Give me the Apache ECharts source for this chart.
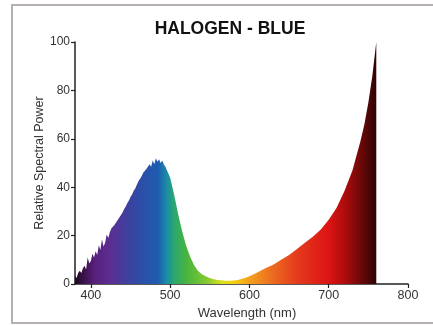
<!DOCTYPE html>
<html>
<head>
<meta charset="utf-8">
<title>HALOGEN - BLUE</title>
<script src="https://cdn.jsdelivr.net/npm/echarts@6/dist/echarts.min.js"></script>
<style>
  html, body { margin: 0; padding: 0; background: #ffffff; overflow: hidden; }
  #frame { position: absolute; left: 11px; top: 4px; width: 425px; height: 316px;
           border: 2px solid #b7b0b0; border-right: none; }
  #chart { position: absolute; left: 0; top: 0; width: 433px; height: 326px; }
</style>
</head>
<body>
<div id="frame"></div>
<div id="chart"></div>
<script>
// Relative spectral power of a halogen lamp behind a blue filter.
const wavelengths = [
  380, 382, 384, 386, 388, 390, 392, 394, 396, 398,
  400, 402, 404, 406, 408, 410, 412, 414, 416, 418,
  420, 422, 424, 426, 428, 430, 432, 434, 436, 438,
  440, 442, 444, 446, 448, 450, 452, 454, 456, 458,
  460, 462, 464, 466, 468, 470, 472, 474, 476, 478,
  480, 482, 484, 486, 488, 490, 492, 494, 496, 498,
  500, 505, 510, 515, 520, 525, 530, 535, 540, 545,
  550, 555, 560, 565, 570, 575, 580, 585, 590, 595,
  600, 610, 620, 630, 640, 650, 660, 670, 680, 690,
  700, 710, 720, 730, 740, 745, 750, 755, 760
];
const power = [
  3.5, 2.5, 4.5, 5.5, 4.5, 6.5, 7.5, 6, 11, 8.5,
  9.5, 12.5, 11, 13.5, 12, 16, 14, 18.5, 15.5, 17,
  20.5, 19, 21.5, 23, 22.5, 24.5, 25, 26.5, 27, 28.5,
  29.5, 31, 32, 33.5, 34.5, 36, 37, 38.5, 39.5, 41,
  42.5, 43.5, 44.5, 46, 45.5, 47.5, 48, 49.5, 48.5, 51,
  49.5, 52, 50.5, 51.5, 50, 51, 49.5, 48.5, 47, 45.5,
  44, 37, 29, 22, 16, 11.5, 8, 5.5, 4, 3.2,
  2.5, 2, 1.7, 1.5, 1.3, 1.3, 1.4, 1.7, 2.1, 2.6,
  3.2, 4.8, 6.5, 8, 10, 12, 14.5, 17, 19.5, 22.5,
  26.5, 31.5, 38.5, 47, 59, 66, 75, 86, 100
];
// Fill colour of the spectrum, keyed by wavelength (nm).
const spectrumWavelengths = [380, 390, 405, 425, 445, 465, 485, 495, 505, 520, 545, 565, 580, 600, 630, 660, 700, 720, 740, 760];
const spectrumColors = ['#1a0a1e', '#3a1048', '#57207c', '#5c2e92', '#3f3f9e', '#2a50a8', '#1e5cb0', '#1b8aa8', '#2aa870', '#48b440',
                        '#80c830', '#d8e020', '#f4d010', '#f4a020', '#ec6a20', '#e43a1c', '#dc1414', '#b00c0c', '#6e0808', '#2e0404'];
const xTicks = [400, 500, 600, 700, 800];
const yTicks = [0, 20, 40, 60, 80, 100];

const wlMin = wavelengths[0];
const wlMax = wavelengths[wavelengths.length - 1];
const stops = spectrumWavelengths.map((w, i) => ({
  offset: (w - wlMin) / (wlMax - wlMin),
  color: spectrumColors[i]
}));

const font = '"Liberation Sans", Arial, Helvetica, sans-serif';
const chart = echarts.init(document.getElementById('chart'), null, { renderer: 'canvas' });
chart.setOption({
  backgroundColor: 'transparent',
  animation: false,
  title: {
    text: 'HALOGEN - BLUE',
    left: 225,
    top: 15,
    textAlign: 'center',
    textStyle: { fontFamily: font, fontSize: 17.5, fontWeight: 'bold', color: '#111' }
  },
  grid: { left: 75, right: 25, top: 42, bottom: 42 },
  xAxis: {
    type: 'value',
    min: 380,
    max: 800,
    name: 'Wavelength (nm)',
    nameLocation: 'middle',
    nameGap: 23,
    nameMoveOverlap: false,
    nameTextStyle: { fontFamily: font, fontSize: 13, color: '#333', padding: [0, 0, 0, 11] },
    axisLine: { show: true, lineStyle: { color: '#222', width: 1.5 } },
    axisTick: { show: true, length: 4, customValues: xTicks, lineStyle: { color: '#222', width: 1.2 } },
    axisLabel: { customValues: xTicks, fontFamily: font, fontSize: 12.5, color: '#333', margin: 5 },
    splitLine: { show: false }
  },
  yAxis: {
    type: 'value',
    min: 0,
    max: 100,
    name: 'Relative Spectral Power',
    nameLocation: 'middle',
    nameGap: 29,
    nameMoveOverlap: false,
    nameTextStyle: { fontFamily: font, fontSize: 12.5, color: '#333' },
    axisLine: { show: true, lineStyle: { color: '#222', width: 1.5 } },
    axisTick: { show: true, length: 4, customValues: yTicks, lineStyle: { color: '#222', width: 1.2 } },
    axisLabel: { customValues: yTicks, fontFamily: font, fontSize: 12, color: '#333', margin: 5 },
    splitLine: { show: false }
  },
  series: [{
    type: 'line',
    data: wavelengths.map((w, i) => [w, power[i]]),
    showSymbol: false,
    symbol: 'none',
    lineStyle: { width: 0 },
    areaStyle: {
      opacity: 1,
      color: new echarts.graphic.LinearGradient(0, 0, 1, 0, stops)
    },
    z: 1
  }]
});
</script>
</body>
</html>
